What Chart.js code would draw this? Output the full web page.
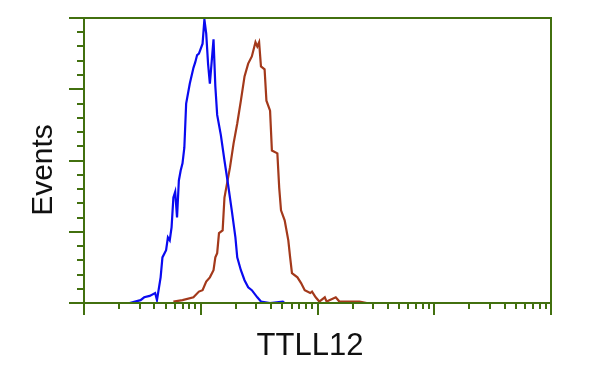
<!DOCTYPE html>
<html><head><meta charset="utf-8">
<script src="https://cdn.jsdelivr.net/npm/chart.js@4/dist/chart.umd.min.js"></script>
<style>html,body{margin:0;padding:0;background:#fff}#wrap{width:600px;height:375px}</style>
</head><body><div id="wrap"><canvas id="c" width="600" height="375"></canvas></div>
<script>
const xTitle = 'TTLL12';
const yTitle = 'Events';
// histogram channels (256 channels over 4 log decades) and event counts
const blueChannels = [21,25,28,31,33,36,39,40,42,43,45,46,47,48,49,50,51,52,53,54,55,56,58,60,61,62,63,65,66,67,68,69,71,72,73,75,77,79,81,83,84,86,88,90,92,95,97,102,109,110];
const blueCounts   = [0,0,1,2,4,5,7,2,18,32,37,46,44,53,74,78,60,86,93,98,109,140,154,165,169,174,175,182,199,189,168,154,185,152,132,118,100,83,65,46,32,23,16,11,9,4,1,0,1,0];
const redChannels  = [49,54,60,63,65,67,69,71,72,73,74,76,77,80,82,84,86,88,90,92,94,95,96,97,99,100,102,103,106,107,108,110,112,113,114,117,119,121,124,125,127,129,132,133,138,140,151,155];
const redCounts    = [1,2,4,8,9,15,18,23,32,35,49,51,74,95,112,126,142,159,168,173,183,180,183,166,164,142,135,107,105,81,65,58,44,32,21,18,14,9,7,8,4,1,4,1,4,1,1,0];
const channelsPerDecade = 64;
const xDecades = [0,1,2,3,4];
const xMinorMultipliers = [2,3,4,5,6,7,8,9];
const yMax = 200;
const yMajorStep = 50;
const yMinorStep = 10;

const axisColor = '#42700f';
const toXY = (xs, ys) => xs.map((x, i) => ({x: x, y: ys[i]}));

const framePlugin = {
  id: 'frame',
  afterDatasetsDraw(chart) {
    const ctx = chart.ctx;
    const xs = chart.scales.x, ys = chart.scales.y;
    const L = xs.getPixelForValue(0), R = xs.getPixelForValue(256);
    const B = ys.getPixelForValue(0), T = ys.getPixelForValue(yMax);
    ctx.save();
    ctx.strokeStyle = axisColor;
    ctx.lineWidth = 2;
    ctx.beginPath();
    ctx.moveTo(L, T); ctx.lineTo(R, T); ctx.lineTo(R, B); ctx.lineTo(L, B); ctx.closePath();
    ctx.stroke();
    // y ticks
    for (let v = 0; v <= yMax; v += yMinorStep) {
      const y = Math.round(ys.getPixelForValue(v));
      const major = v % yMajorStep === 0;
      ctx.beginPath();
      ctx.moveTo(L - (major ? 15 : 7), y); ctx.lineTo(L, y);
      ctx.stroke();
    }
    // x ticks (log decades with minor 2..9)
    xDecades.forEach(d => {
      const xm = Math.round(xs.getPixelForValue(d * channelsPerDecade));
      ctx.beginPath(); ctx.moveTo(xm, B); ctx.lineTo(xm, B + 12); ctx.stroke();
      if (d < xDecades[xDecades.length - 1]) {
        xMinorMultipliers.forEach(m => {
          const x = Math.round(xs.getPixelForValue((d + Math.log10(m)) * channelsPerDecade));
          ctx.beginPath(); ctx.moveTo(x, B); ctx.lineTo(x, B + 6); ctx.stroke();
        });
      }
    });
    // titles
    ctx.fillStyle = '#111';
    ctx.font = '31px "Liberation Sans", Arial, sans-serif';
    ctx.textAlign = 'center';
    ctx.textBaseline = 'alphabetic';
    ctx.fillText(xTitle, 310, 355);
    ctx.save();
    ctx.translate(52, 170);
    ctx.rotate(-Math.PI / 2);
    ctx.font = '30px "Liberation Sans", Arial, sans-serif';
    ctx.fillText(yTitle, 0, 0);
    ctx.restore();
    ctx.restore();
  }
};

new Chart(document.getElementById('c'), {
  type: 'scatter',
  data: {
    datasets: [
      {label: 'control', data: toXY(blueChannels, blueCounts), showLine: true, borderColor: '#0a0af0', borderWidth: 2.2, pointRadius: 0, tension: 0},
      {label: 'TTLL12', data: toXY(redChannels, redCounts), showLine: true, borderColor: '#a3391b', borderWidth: 2.2, pointRadius: 0, tension: 0}
    ]
  },
  options: {
    responsive: false,
    animation: false,
    layout: {padding: {left: 84, right: 49, top: 18, bottom: 72}},
    scales: {
      x: {type: 'linear', min: 0, max: 256, display: false},
      y: {type: 'linear', min: 0, max: yMax, display: false}
    },
    plugins: {legend: {display: false}, tooltip: {enabled: false}}
  },
  plugins: [framePlugin]
});
</script>
</body></html>
